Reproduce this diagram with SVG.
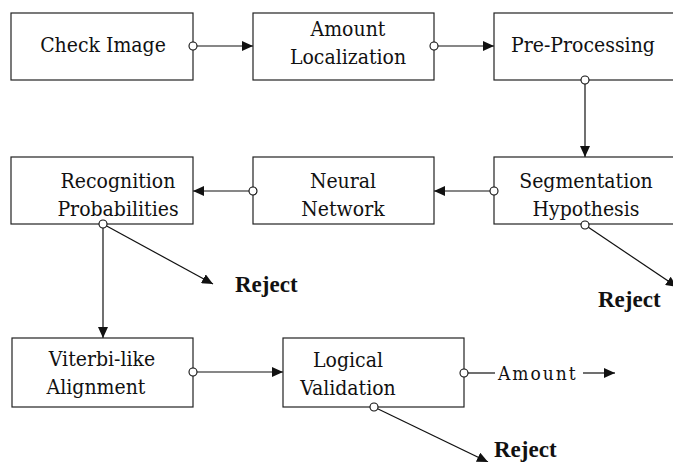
<svg xmlns="http://www.w3.org/2000/svg" width="673" height="462" viewBox="0 0 673 462">
  <style>
    .box rect { fill: #fff; stroke: #222; stroke-width: 1.2; }
    text { font-family: 'Liberation Serif', 'Times New Roman', serif; fill: #111; }
    .lbl { font-family: 'DejaVu Serif Condensed', 'DejaVu Serif', serif; font-size: 21px; text-anchor: middle; }
    .rej { font-size: 23px; font-weight: bold; }
    .out { font-family: 'DejaVu Serif Condensed', 'DejaVu Serif', serif; font-size: 19px; letter-spacing: 2px; }
    .conn line { stroke: #111; stroke-width: 1.2; }
    .port { fill: #fff; stroke: #111; stroke-width: 1.1; }
  </style>
  <defs>
    <marker id="arrow" markerUnits="userSpaceOnUse" markerWidth="12" markerHeight="10" refX="11" refY="5" orient="auto">
      <path d="M0,0 L11,5 L0,10 z" fill="#111"/>
    </marker>
  </defs>
  <rect width="673" height="462" fill="#fff"/>

  <!-- connectors -->
  <g id="connectors" class="conn">
    <line x1="193" y1="46" x2="253" y2="46" marker-end="url(#arrow)"/>
    <line x1="434" y1="46" x2="494" y2="46" marker-end="url(#arrow)"/>
    <line x1="585" y1="80" x2="585" y2="157" marker-end="url(#arrow)"/>
    <line x1="494" y1="191" x2="434" y2="191" marker-end="url(#arrow)"/>
    <line x1="253" y1="191" x2="193" y2="191" marker-end="url(#arrow)"/>
    <line x1="103" y1="224" x2="213" y2="284" marker-end="url(#arrow)"/>
    <line x1="585" y1="225" x2="677" y2="287" marker-end="url(#arrow)"/>
    <line x1="103" y1="224" x2="103" y2="338" marker-end="url(#arrow)"/>
    <line x1="193" y1="372" x2="283" y2="372" marker-end="url(#arrow)"/>
    <line x1="374" y1="407" x2="488" y2="462" marker-end="url(#arrow)"/>
    <line x1="464" y1="373" x2="495" y2="373"/>
    <line x1="583" y1="373" x2="615" y2="373" marker-end="url(#arrow)"/>
  </g>

  <g id="check-image" class="box">
    <rect x="11" y="13" width="182" height="67"/>
    <text class="lbl" x="103" y="52">Check Image</text>
  </g>
  <g id="amount-localization" class="box">
    <rect x="253" y="13" width="181" height="67"/>
    <text class="lbl" x="348" y="36">Amount</text>
    <text class="lbl" x="348" y="64">Localization</text>
  </g>
  <g id="pre-processing" class="box">
    <rect x="494" y="13" width="190" height="67"/>
    <text class="lbl" x="583" y="52">Pre-Processing</text>
  </g>
  <g id="segmentation-hypothesis" class="box">
    <rect x="494" y="157" width="190" height="67"/>
    <text class="lbl" x="586" y="188">Segmentation</text>
    <text class="lbl" x="586" y="216">Hypothesis</text>
  </g>
  <g id="neural-network" class="box">
    <rect x="253" y="157" width="181" height="67"/>
    <text class="lbl" x="343" y="188">Neural</text>
    <text class="lbl" x="343" y="216">Network</text>
  </g>
  <g id="recognition-probabilities" class="box">
    <rect x="11" y="157" width="182" height="67"/>
    <text class="lbl" x="118" y="188">Recognition</text>
    <text class="lbl" x="118" y="216">Probabilities</text>
  </g>
  <g id="viterbi-alignment" class="box">
    <rect x="12" y="338" width="181" height="69"/>
    <text class="lbl" x="102" y="366">Viterbi-like</text>
    <text class="lbl" x="96" y="394">Alignment</text>
  </g>
  <g id="logical-validation" class="box">
    <rect x="283" y="338" width="181" height="69"/>
    <text class="lbl" x="348" y="367">Logical</text>
    <text class="lbl" x="348" y="395">Validation</text>
  </g>

  <!-- output ports -->
  <g id="ports">
    <circle class="port" cx="193" cy="46" r="4"/>
    <circle class="port" cx="434" cy="46" r="4"/>
    <circle class="port" cx="585" cy="80" r="4"/>
    <circle class="port" cx="494" cy="191" r="4"/>
    <circle class="port" cx="253" cy="191" r="4"/>
    <circle class="port" cx="103" cy="224" r="4"/>
    <circle class="port" cx="585" cy="225" r="4"/>
    <circle class="port" cx="193" cy="372" r="4"/>
    <circle class="port" cx="464" cy="373" r="4"/>
    <circle class="port" cx="374" cy="407" r="4"/>
  </g>

  <g id="outcomes">
    <text class="rej" x="235" y="292">Reject</text>
    <text class="rej" x="598" y="307">Reject</text>
    <text class="rej" x="494" y="457">Reject</text>
    <text class="out" x="498" y="380">Amount</text>
  </g>
</svg>
